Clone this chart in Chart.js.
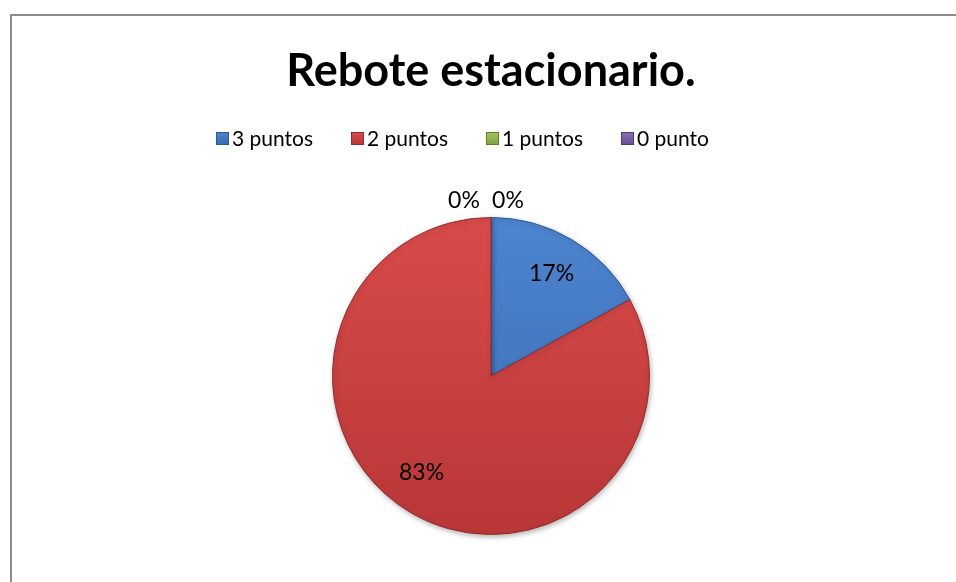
<!DOCTYPE html>
<html>
<head>
<meta charset="utf-8">
<script src="https://cdn.jsdelivr.net/npm/chart.js@4.4.0/dist/chart.umd.min.js"></script>
<style>
  html, body { margin: 0; padding: 0; background: #fff; }
  #wrap { width: 956px; height: 582px; }
</style>
</head>
<body>
<div id="wrap"><canvas id="grafico" width="956" height="582"></canvas></div>
<script>
  // Datos del gráfico
  const titulo = 'Rebote estacionario.';
  const categorias = ['3 puntos', '2 puntos', '1 puntos', '0 punto'];
  const porcentajes = [17, 83, 0, 0];

  // Colores de cada porción (claro arriba, oscuro abajo, borde)
  const claros = ['#4d85cf', '#d84b4a', '#a3c862', '#8c6db5'];
  const oscuros = ['#3a6ab0', '#b93737', '#7f9f42', '#6a4e92'];
  const bordes = ['#2d5894', '#952b2b', '#627d30', '#54397a'];

  const fuente = 'Lato, "Open Sans", sans-serif';

  // Fondo blanco y marco gris
  const marco = {
    id: 'marco',
    beforeDraw(chart) {
      const ctx = chart.ctx;
      ctx.save();
      ctx.fillStyle = '#fff';
      ctx.fillRect(0, 0, chart.width, chart.height);
      ctx.strokeStyle = '#8c8c8c';
      ctx.lineWidth = 2;
      ctx.strokeRect(11, 15, chart.width + 20, chart.height + 20);
      ctx.restore();
    }
  };

  // Título y leyenda estilo Excel
  const encabezado = {
    id: 'encabezado',
    afterDraw(chart) {
      const ctx = chart.ctx;
      ctx.save();
      ctx.fillStyle = '#000';
      ctx.textAlign = 'center';
      ctx.textBaseline = 'middle';
      ctx.font = 'bold 45px ' + fuente;
      ctx.fillText(titulo, 491, 71);

      ctx.font = '21px ' + fuente;
      ctx.textAlign = 'left';
      categorias.forEach((cat, i) => {
        const x = 216 + i * 135;
        const y = 132;
        const g = ctx.createLinearGradient(0, y, 0, y + 13);
        g.addColorStop(0, claros[i]);
        g.addColorStop(1, oscuros[i]);
        ctx.fillStyle = g;
        ctx.fillRect(x, y, 13, 13);
        ctx.strokeStyle = bordes[i];
        ctx.lineWidth = 1;
        ctx.strokeRect(x + 0.5, y + 0.5, 12, 12);
        ctx.fillStyle = '#000';
        ctx.fillText(cat, x + 16, y + 7);
      });
      ctx.restore();
    }
  };

  // Sombra suave bajo las porciones
  const sombra = {
    id: 'sombra',
    beforeDatasetDraw(chart) {
      const ctx = chart.ctx;
      ctx.save();
      ctx.shadowColor = 'rgba(0,0,0,0.28)';
      ctx.shadowBlur = 5;
      ctx.shadowOffsetX = 1;
      ctx.shadowOffsetY = 2;
    },
    afterDatasetDraw(chart) {
      chart.ctx.restore();
    }
  };

  // Etiquetas de porcentaje
  const etiquetas = {
    id: 'etiquetas',
    afterDatasetsDraw(chart) {
      const ctx = chart.ctx;
      const arcos = chart.getDatasetMeta(0).data;
      ctx.save();
      ctx.font = '23px ' + fuente;
      ctx.fillStyle = '#000';
      ctx.textAlign = 'center';
      ctx.textBaseline = 'middle';
      let ceros = 0;
      arcos.forEach((arco, i) => {
        const valor = porcentajes[i];
        const texto = valor + '%';
        const { x, y, startAngle, endAngle, outerRadius } = arco.getProps(['x', 'y', 'startAngle', 'endAngle', 'outerRadius'], true);
        if (valor === 0) {
          // porciones vacías: etiqueta fuera, sobre el borde superior
          const dx = ceros === 0 ? -27 : 17;
          ctx.fillText(texto, x + dx, y - outerRadius - 17);
          ceros++;
          return;
        }
        // las porciones grandes llevan la etiqueta algo más girada hacia fuera
        const medio = (startAngle + endAngle) / 2 + (valor > 50 ? 0.09 : 0);
        const r = outerRadius * 0.75;
        ctx.fillText(texto, x + Math.cos(medio) * r, y + Math.sin(medio) * r);
      });
      ctx.restore();
    }
  };

  function relleno(c) {
    const area = c.chart.chartArea;
    const i = c.dataIndex;
    if (!area) return oscuros[i];
    const g = c.chart.ctx.createLinearGradient(0, area.top, 0, area.bottom);
    g.addColorStop(0, claros[i]);
    g.addColorStop(1, oscuros[i]);
    return g;
  }

  new Chart(document.getElementById('grafico'), {
    type: 'pie',
    data: {
      labels: categorias,
      datasets: [{
        data: porcentajes,
        backgroundColor: relleno,
        borderColor: bordes,
        borderWidth: 1
      }]
    },
    options: {
      responsive: false,
      animation: false,
      layout: { padding: { left: 332, right: 306, top: 217, bottom: 47 } },
      plugins: {
        legend: { display: false },
        title: { display: false },
        tooltip: { enabled: false }
      }
    },
    plugins: [marco, sombra, etiquetas, encabezado]
  });
</script>
</body>
</html>
